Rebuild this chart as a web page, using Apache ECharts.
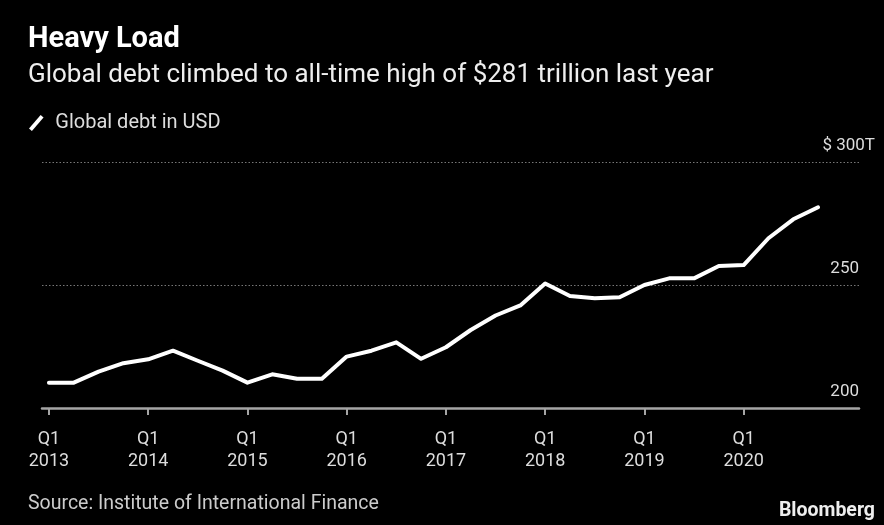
<!DOCTYPE html>
<html>
<head>
<meta charset="utf-8">
<script src="https://cdn.jsdelivr.net/npm/echarts@6/dist/echarts.min.js"></script>
<style>
html, body { margin: 0; padding: 0; background: #000; }
#chart { width: 884px; height: 525px; }
</style>
</head>
<body>
<div id="chart"></div>
<script>
// quarterly global debt, USD trillions
var quarters = [
    'Q1 2013', 'Q2 2013', 'Q3 2013', 'Q4 2013',
    'Q1 2014', 'Q2 2014', 'Q3 2014', 'Q4 2014',
    'Q1 2015', 'Q2 2015', 'Q3 2015', 'Q4 2015',
    'Q1 2016', 'Q2 2016', 'Q3 2016', 'Q4 2016',
    'Q1 2017', 'Q2 2017', 'Q3 2017', 'Q4 2017',
    'Q1 2018', 'Q2 2018', 'Q3 2018', 'Q4 2018',
    'Q1 2019', 'Q2 2019', 'Q3 2019', 'Q4 2019',
    'Q1 2020', 'Q2 2020', 'Q3 2020', 'Q4 2020'
];
var debt = [
    210.3, 210.3, 214.8, 218.2,
    219.8, 223.3, 219.2, 215.2,
    210.3, 213.7, 211.9, 211.9,
    220.9, 223.3, 226.7, 220.0,
    224.7, 231.7, 237.6, 241.7,
    250.6, 245.5, 244.6, 245.0,
    250.0, 252.7, 252.7, 257.7,
    258.1, 269.0, 276.7, 281.6
];
var tickQuarters = [0, 4, 8, 12, 16, 20, 24, 28];
var tickLabels = ['Q1\n2013', 'Q1\n2014', 'Q1\n2015', 'Q1\n2016', 'Q1\n2017', 'Q1\n2018', 'Q1\n2019', 'Q1\n2020'];
var yTicks = [200, 250, 300];

var font = 'Roboto';
var chart = echarts.init(document.getElementById('chart'));

var points = [];
for (var i = 0; i < debt.length; i++) {
    points.push([i, debt[i]]);
}

chart.setOption({
    backgroundColor: '#000',
    animation: false,
    title: [
        {
            text: 'Heavy Load',
            left: 28,
            top: 25,
            padding: 0,
            textStyle: { color: '#fff', fontSize: 29, fontWeight: 'bold', fontFamily: font }
        },
        {
            text: 'Global debt climbed to all-time high of $281 trillion last year',
            left: 28,
            top: 62,
            padding: 0,
            textStyle: { color: '#eee', fontSize: 26, fontWeight: 'normal', fontFamily: font }
        },
        {
            text: 'Source: Institute of International Finance',
            left: 28,
            top: 494,
            padding: 0,
            textStyle: { color: '#ccc', fontSize: 19.5, fontWeight: 'normal', fontFamily: font }
        },
        {
            text: 'Bloomberg',
            right: 9,
            top: 501,
            padding: 0,
            textStyle: { color: '#eee', fontSize: 19.5, fontWeight: 'bold', fontFamily: font }
        }
    ],
    legend: {
        left: 29,
        top: 113,
        padding: 0,
        itemWidth: 16,
        itemHeight: 16,
        icon: 'path://M0,14 L12,0 L15,2.5 L3,16.5 Z',
        textStyle: { color: '#ddd', fontSize: 20, fontFamily: font, padding: [0, 0, 0, 6] },
        data: ['Global debt in USD']
    },
    grid: {
        left: 42,
        right: 25,
        top: 162,
        bottom: 117,
        containLabel: false
    },
    xAxis: {
        type: 'value',
        min: -0.28,
        max: 32.65,
        splitLine: { show: false },
        axisLine: { onZero: false, lineStyle: { color: '#a5a5a5', width: 2.5 } },
        axisTick: {
            customValues: tickQuarters,
            length: 7,
            lineStyle: { color: '#a5a5a5', width: 2 }
        },
        axisLabel: {
            customValues: tickQuarters,
            margin: 20,
            color: '#ddd',
            fontSize: 18,
            lineHeight: 22,
            fontFamily: font,
            formatter: function (v) {
                return tickLabels[tickQuarters.indexOf(Math.round(v))] || '';
            }
        }
    },
    yAxis: {
        type: 'value',
        position: 'right',
        min: 200,
        max: 300,
        interval: 50,
        axisLine: { show: false },
        axisTick: { show: false },
        splitLine: {
            showMinLine: false,
            lineStyle: { color: '#777', width: 1, type: [1.5, 2] }
        },
        axisLabel: {
            inside: true,
            margin: -16,
            align: 'right',
            verticalAlign: 'bottom',
            padding: [0, 0, 8, 0],
            color: '#ddd',
            fontSize: 17,
            fontFamily: font,
            formatter: function (v) {
                if (v === yTicks[2]) return '$ ' + v + 'T';
                return v + '{sp| }';
            },
            rich: {
                sp: { width: 16, fontSize: 17 }
            }
        }
    },
    series: [
        {
            name: 'Global debt in USD',
            type: 'line',
            data: points,
            symbol: 'none',
            lineStyle: { color: '#fff', width: 4, cap: 'round', join: 'round' },
            itemStyle: { color: '#fff' }
        }
    ]
});
</script>
</body>
</html>
